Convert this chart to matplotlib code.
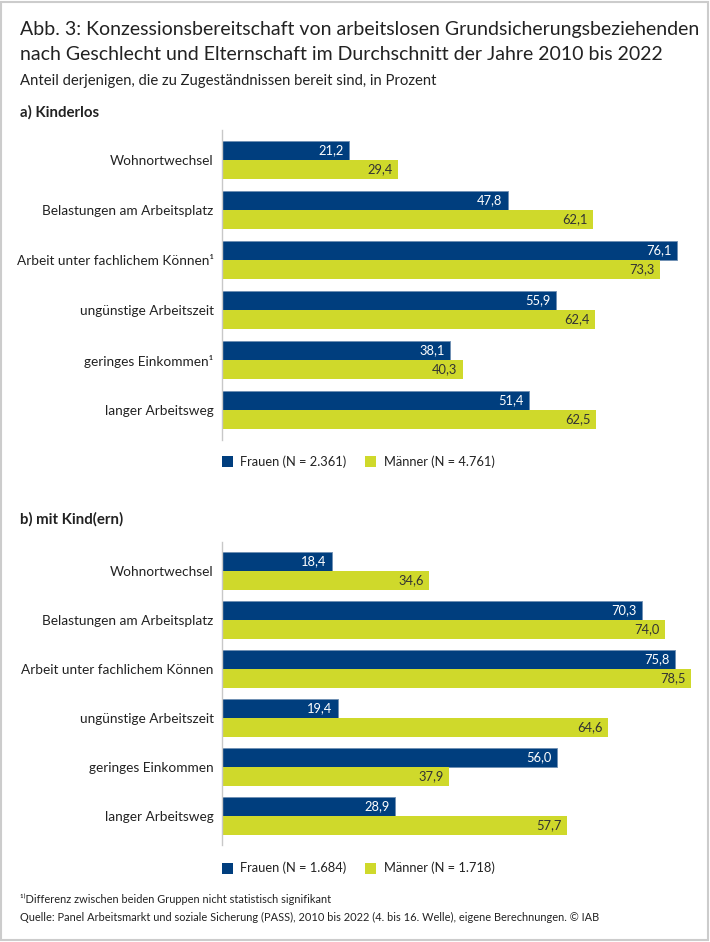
import matplotlib
matplotlib.use("Agg")
import matplotlib.pyplot as plt
from matplotlib.patches import Rectangle

plt.rcParams['font.family'] = ['Lato', 'DejaVu Sans']

W, H = 710, 942
NAVY = "#003e7e"
LIME = "#cfd92b"
TXT = "#222222"

title1 = "Abb. 3: Konzessionsbereitschaft von arbeitslosen Grundsicherungsbeziehenden"
title2 = "nach Geschlecht und Elternschaft im Durchschnitt der Jahre 2010 bis 2022"
subtitle = "Anteil derjenigen, die zu Zugeständnissen bereit sind, in Prozent"

cats_a = ["Wohnortwechsel", "Belastungen am Arbeitsplatz", "Arbeit unter fachlichem Können¹",
          "ungünstige Arbeitszeit", "geringes Einkommen¹", "langer Arbeitsweg"]
frauen_a = [21.2, 47.8, 76.1, 55.9, 38.1, 51.4]
maenner_a = [29.4, 62.1, 73.3, 62.4, 40.3, 62.5]
legend_a = ["Frauen (N = 2.361)", "Männer (N = 4.761)"]

cats_b = ["Wohnortwechsel", "Belastungen am Arbeitsplatz", "Arbeit unter fachlichem Können",
          "ungünstige Arbeitszeit", "geringes Einkommen", "langer Arbeitsweg"]
frauen_b = [18.4, 70.3, 75.8, 19.4, 56.0, 28.9]
maenner_b = [34.6, 74.0, 78.5, 64.6, 37.9, 57.7]
legend_b = ["Frauen (N = 1.684)", "Männer (N = 1.718)"]

footnote = "¹⁾Differenz zwischen beiden Gruppen nicht statistisch signifikant"
source = "Quelle: Panel Arbeitsmarkt und soziale Sicherung (PASS), 2010 bis 2022 (4. bis 16. Welle), eigene Berechnungen. © IAB"

fig = plt.figure(figsize=(W / 100, H / 100), dpi=100)

def fx(px):
    return px / W

def fy(py):
    return 1 - py / H

# border
fig.add_artist(Rectangle((fx(1), fy(940)), fx(707), (938) / H, transform=fig.transFigure,
                         fill=False, edgecolor="#cccccc", lw=1.5))

fig.text(fx(20), fy(35), title1, fontsize=14.05, color=TXT, va="baseline")
fig.text(fx(20), fy(60), title2, fontsize=14.05, color=TXT, va="baseline")
fig.text(fx(20), fy(85), subtitle, fontsize=10.7, color=TXT, va="baseline")


def panel(top_px, spacing, cats, fr, ma, head, head_y, leg, leg_y):
    height_px = 6.2 * spacing
    ax = fig.add_axes([fx(222), fy(top_px + height_px), 80 * 5.98 / W, height_px / H])
    ax.set_xlim(0, 80)
    ax.set_ylim(5.6, -0.6)
    bh = 19 / spacing
    ys = list(range(len(cats)))
    ax.barh([y - bh / 2 for y in ys], fr, height=bh, color=NAVY, edgecolor="#6f8fb3", linewidth=0.6)
    ax.barh([y + bh / 2 for y in ys], ma, height=bh, color=LIME, edgecolor=LIME, linewidth=0)
    for y, v in zip(ys, fr):
        ax.text(v - 0.9, y - bh / 2, f"{v:.1f}".replace(".", ","), ha="right", va="center",
                fontsize=9.3, color="white")
    for y, v in zip(ys, ma):
        ax.text(v - 0.9, y + bh / 2, f"{v:.1f}".replace(".", ","), ha="right", va="center",
                fontsize=9.3, color="#333333")
    ax.set_yticks(ys)
    ax.set_yticklabels(cats, fontsize=9.8, color=TXT)
    ax.tick_params(axis="y", length=0, pad=6)
    ax.set_xticks([])
    for s in ["top", "right", "bottom"]:
        ax.spines[s].set_visible(False)
    ax.spines["left"].set_color("#c8c8c8")
    ax.spines["left"].set_linewidth(1)
    fig.text(fx(20), fy(head_y), head, fontsize=10.8, fontweight="bold", color=TXT, va="baseline")
    # legend
    sq = 11
    fig.add_artist(Rectangle((fx(222), fy(leg_y + sq / 2)), sq / W, sq / H, transform=fig.transFigure,
                             facecolor=NAVY, edgecolor="none"))
    fig.text(fx(240), fy(leg_y), leg[0], fontsize=9.3, color=TXT, va="center")
    fig.add_artist(Rectangle((fx(365), fy(leg_y + sq / 2)), sq / W, sq / H, transform=fig.transFigure,
                             facecolor=LIME, edgecolor="none"))
    fig.text(fx(384), fy(leg_y), leg[1], fontsize=9.3, color=TXT, va="center")
    return ax

panel(130, 50, cats_a, frauen_a, maenner_a, "a) Kinderlos", 117, legend_a, 462)
panel(541.6, 49, cats_b, frauen_b, maenner_b, "b) mit Kind(ern)", 524, legend_b, 868)

fig.text(fx(20), fy(903), footnote, fontsize=7.9, color=TXT, va="baseline")
fig.text(fx(20), fy(921), source, fontsize=7.9, color=TXT, va="baseline")

fig.savefig("out.png", dpi=100, facecolor="white")
